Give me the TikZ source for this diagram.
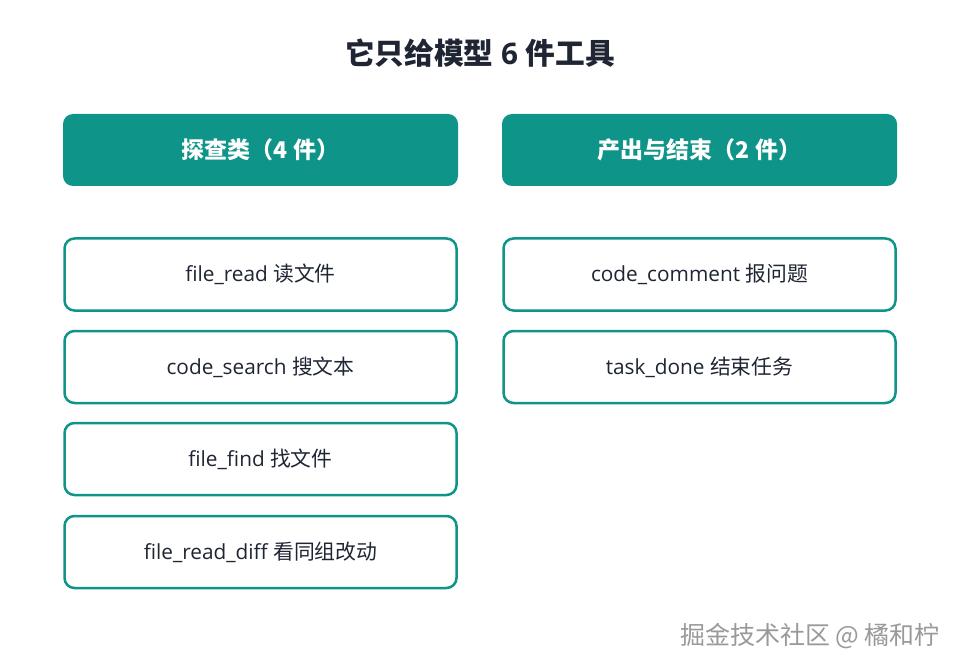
\documentclass[tikz,border=0pt]{standalone}
\usepackage{fontspec}
\setmainfont{Open Sans}
\newfontfamily\cjk{Noto Sans CJK SC}
\begin{document}
\begin{tikzpicture}[x=1pt,y=-1pt,
  hdr/.style={fill=teal600, rounded corners=10pt, minimum width=395pt, minimum height=72pt, inner sep=0pt, text=white, font=\fontsize{23}{26}\selectfont\bfseries},
  item/.style={draw=teal600, line width=2.5pt, fill=white, rounded corners=10pt, minimum width=392pt, minimum height=72pt, inner sep=0pt, text=ink, font=\fontsize{20.8}{24}\selectfont},
  ttl/.style={text=ink, font=\fontsize{29.7}{34}\selectfont\bfseries},
  wm/.style={text=wmgray, font=\fontsize{25}{28}\selectfont}]
\definecolor{teal600}{HTML}{0E9488}
\definecolor{ink}{HTML}{1F2533}
\definecolor{wmgray}{HTML}{999999}
\useasboundingbox (0,0) rectangle (959,671);
\fill[white] (0,0) rectangle (959,671);
\node[ttl] (title) at (480,53) {{\cjk 它只给模型} 6 {\cjk 件工具}};
\node[hdr] (h1) at (260.5,150) {\cjk 探查类（4 件）};
\node[hdr] (h2) at (699.5,150) {\cjk 产出与结束（2 件）};
\node[item] (a1) at (260.5,274.5) {file\_read {\cjk 读文件}};
\node[item] (a2) at (260.5,367) {code\_search {\cjk 搜文本}};
\node[item] (a3) at (260.5,459) {file\_find {\cjk 找文件}};
\node[item] (a4) at (260.5,552) {file\_read\_diff {\cjk 看同组改动}};
\node[item] (b1) at (699.5,274.5) {code\_comment {\cjk 报问题}};
\node[item] (b2) at (699.5,367) {task\_done {\cjk 结束任务}};
\node[wm] (wm) at (810,636) {\cjk 掘金技术社区 @ 橘和柠};
\end{tikzpicture}
\end{document}
